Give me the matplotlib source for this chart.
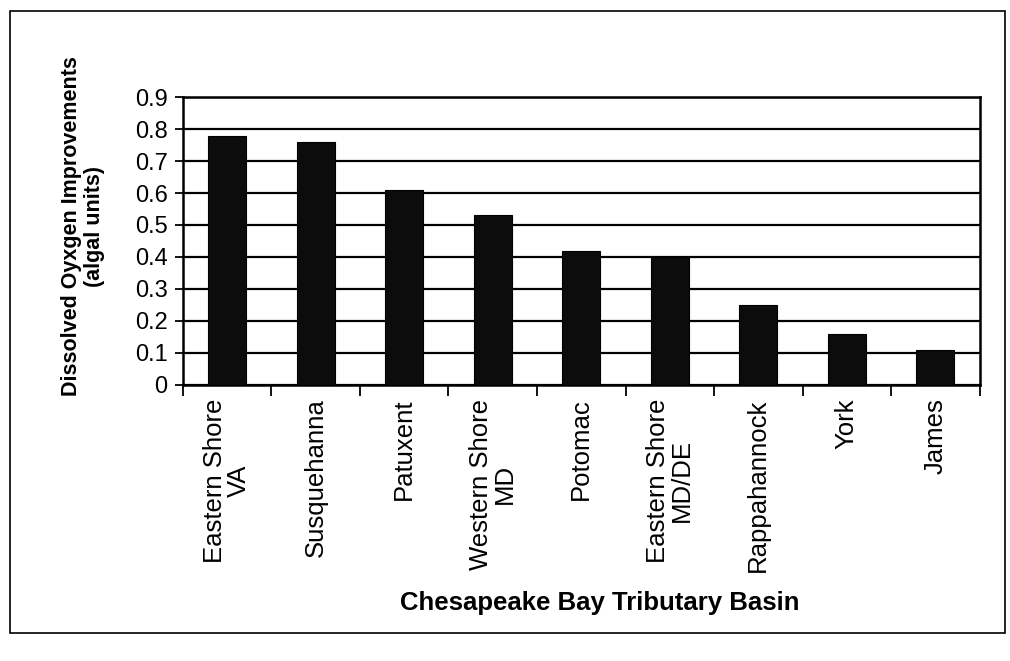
import matplotlib
matplotlib.use("Agg")
import matplotlib.pyplot as plt
from matplotlib.patches import Rectangle
import numpy as np

plt.rcParams['font.family'] = ['Liberation Sans', 'DejaVu Sans']

# Tributary basins and their dissolved-oxygen improvement
basins = ["Eastern Shore\nVA", "Susquehanna", "Patuxent", "Western Shore\nMD",
          "Potomac", "Eastern Shore\nMD/DE", "Rappahannock", "York", "James"]
improvement = [0.78, 0.76, 0.61, 0.53, 0.42, 0.40, 0.25, 0.16, 0.11]
y_ticks = [0, 0.1, 0.2, 0.3, 0.4, 0.5, 0.6, 0.7, 0.8, 0.9]
y_tick_labels = ["0", "0.1", "0.2", "0.3", "0.4", "0.5", "0.6", "0.7", "0.8", "0.9"]

fig = plt.figure(figsize=(10.10, 6.61), dpi=100)
ax = fig.add_axes([0.181, 0.418, 0.789, 0.435])

x = np.arange(len(basins))
ax.bar(x, improvement, width=0.43, color="#0c0c0c", edgecolor="#000000",
       linewidth=0.8, zorder=3)

ax.set_xlim(-0.5, len(basins) - 0.5)
ax.set_ylim(0, 0.9)
ax.set_yticks(y_ticks)
ax.set_yticklabels(y_tick_labels, fontsize=17)
ax.yaxis.grid(True, color="black", linewidth=1.6, zorder=1)
ax.set_axisbelow(True)

# category ticks sit between bars, labels at bar centres
ax.set_xticks(np.arange(len(basins) + 1) - 0.5)
ax.set_xticklabels([])
ax.set_xticks(x, minor=True)
ax.set_xticklabels(basins, minor=True, rotation=90, fontsize=18.5,
                   ha="center", va="top", multialignment="center",
                   linespacing=1.0)
ax.tick_params(axis="x", which="major", direction="out", length=8, width=1.3)
ax.tick_params(axis="x", which="minor", length=0, pad=10)
ax.tick_params(axis="y", direction="out", length=6, width=1.3, pad=5)

for s in ax.spines.values():
    s.set_linewidth(1.8)
    s.set_color("black")

ax.set_ylabel("Dissolved Oyxgen Improvements\n(algal units)", fontsize=15.5,
              fontweight="bold", linespacing=1.1)
ax.yaxis.set_label_coords(-0.098, 0.55)
fig.text(0.594, 0.088, "Chesapeake Bay Tributary Basin", fontsize=18.5,
         fontweight="bold", ha="center", va="center")

# outer chart frame
fig.patches.append(Rectangle((0.010, 0.043), 0.985, 0.94, transform=fig.transFigure,
                             fill=False, edgecolor="black", linewidth=1.2))

fig.savefig("out.png", dpi=100)
